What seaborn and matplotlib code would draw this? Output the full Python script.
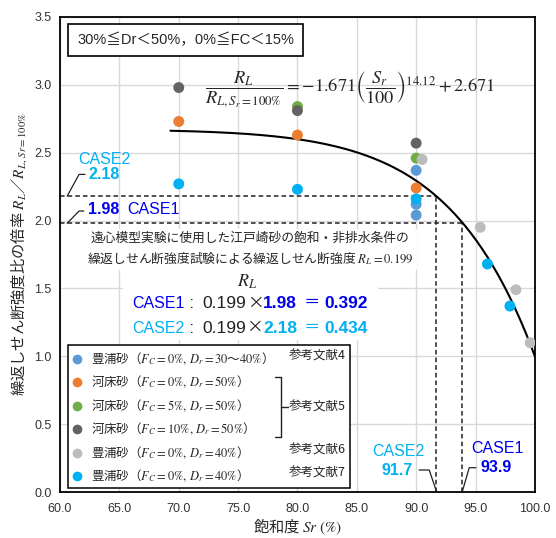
import numpy as np
import pandas as pd
import matplotlib
matplotlib.use("Agg")
import matplotlib.pyplot as plt
import seaborn as sns
from matplotlib.lines import Line2D
from matplotlib.patches import Rectangle

# ---------------- data ----------------
series_names = ["ref4", "ref5_fc0", "ref5_fc5", "ref5_fc10", "ref6", "ref7"]
series_colors = ["#5B9BD5", "#ED7D31", "#70AD47", "#636363", "#BCBCBC", "#00B0F0"]
series_labels = [
    "豊浦砂（$F_C=0\\%,\\,D_r=30$〜$40\\%$）",
    "河床砂（$F_C=0\\%,\\,D_r=50\\%$）",
    "河床砂（$F_C=5\\%,\\,D_r=50\\%$）",
    "河床砂（$F_C=10\\%,\\,D_r=50\\%$）",
    "豊浦砂（$F_C=0\\%,\\,D_r=40\\%$）",
    "豊浦砂（$F_C=0\\%,\\,D_r=40\\%$）",
]
ref4_sr = [90, 90, 90]
ref4_ratio = [2.37, 2.12, 2.04]
fc0_sr = [70, 80, 90]
fc0_ratio = [2.73, 2.63, 2.24]
fc5_sr = [80, 90]
fc5_ratio = [2.84, 2.46]
fc10_sr = [70, 80, 90]
fc10_ratio = [2.98, 2.81, 2.57]
ref6_sr = [90.5, 95.4, 98.4, 99.6]
ref6_ratio = [2.45, 1.95, 1.49, 1.10]
ref7_sr = [70, 80, 90, 96.0, 97.9]
ref7_ratio = [2.27, 2.23, 2.16, 1.68, 1.37]

coef_a = -1.671
coef_exp = 14.12
coef_b = 2.671
curve_start = 69.3

case1_ratio, case1_sr = 1.98, 93.9
case2_ratio, case2_sr = 2.18, 91.7
rl_base = 0.199
case1_rl, case2_rl = 0.392, 0.434

x_ticks = [60.0, 65.0, 70.0, 75.0, 80.0, 85.0, 90.0, 95.0, 100.0]
y_ticks = [0.0, 0.5, 1.0, 1.5, 2.0, 2.5, 3.0, 3.5]

# ---------------- style ----------------
sns.set_style("whitegrid")
plt.rcParams["font.family"] = ["Liberation Sans", "Noto Sans CJK JP"]
plt.rcParams["mathtext.fontset"] = "stix"
JP = "Noto Sans CJK JP"

blue = "#0000F0"
cyan = "#00B0F0"

df = pd.concat([
    pd.DataFrame({"sr": s, "ratio": r, "series": n})
    for s, r, n in [
        (ref4_sr, ref4_ratio, "ref4"), (fc0_sr, fc0_ratio, "ref5_fc0"),
        (fc5_sr, fc5_ratio, "ref5_fc5"), (fc10_sr, fc10_ratio, "ref5_fc10"),
        (ref6_sr, ref6_ratio, "ref6"), (ref7_sr, ref7_ratio, "ref7")]
], ignore_index=True)

fig = plt.figure(figsize=(5.56, 5.38), dpi=100)
ax = fig.add_axes([0.108, 0.0855, 0.854, 0.883])

# curve
sr_curve = np.linspace(curve_start, 100, 200)
ratio_curve = coef_a * (sr_curve / 100) ** coef_exp + coef_b
sns.lineplot(x=sr_curve, y=ratio_curve, color="black", linewidth=1.5,
             estimator=None, sort=False, ax=ax, zorder=3)

# dashed guide lines
for sr, rt in [(case2_sr, case2_ratio), (case1_sr, case1_ratio)]:
    ax.plot([60, sr], [rt, rt], color="#222222", lw=1.1, ls=(0, (3, 2)), zorder=2)
    ax.plot([sr, sr], [0, rt], color="#222222", lw=1.1, ls=(0, (3, 2)), zorder=2)

# points
sns.scatterplot(data=df, x="sr", y="ratio", hue="series", hue_order=series_names,
                palette=dict(zip(series_names, series_colors)), s=62, linewidth=0,
                legend=False, ax=ax, zorder=4)

ax.set_xlim(60, 100)
ax.set_ylim(0, 3.5)
ax.set_xticks(x_ticks)
ax.set_yticks(y_ticks)
ax.set_xticklabels([f"{v:.1f}" for v in x_ticks])
ax.set_yticklabels([f"{v:.1f}" for v in y_ticks])
ax.tick_params(axis="both", length=0, labelsize=9, labelcolor="#333333")
ax.tick_params(axis="x", pad=8)
ax.tick_params(axis="y", pad=6)
ax.grid(True, color="#D9D9D9", linewidth=1.0)
for sp in ax.spines.values():
    sp.set_color("black")
    sp.set_linewidth(1.3)

ax.set_xlabel("飽和度 $Sr\\ \\mathrm{(\\%)}$", fontsize=11, labelpad=1, family=JP)
ax.set_ylabel("繰返しせん断強度比の倍率 $R_L$／$R_{L,\\,Sr=100\\%}$", fontsize=11,
              labelpad=4, family=JP)

# condition box
ax.text(70.6, 3.33, "30%≦Dr＜50%，0%≦FC＜15%", ha="center", va="center", fontsize=10.5,
        bbox=dict(boxstyle="square,pad=0.62", facecolor="white", edgecolor="black", linewidth=1.2),
        zorder=6)

# formula
ax.text(84.4, 2.96,
        r"$\dfrac{R_L}{R_{L,S_r=100\%}}=-1.671\left(\dfrac{S_r}{100}\right)^{14.12}+2.671$",
        ha="center", va="center", fontsize=13.2, zorder=6)

# explanation paragraph
ax.text(76.0, 1.79,
        "遠心模型実験に使用した江戸崎砂の飽和・非排水条件の\n繰返しせん断強度試験による繰返しせん断強度 $R_L=0.199$",
        ha="center", va="center", fontsize=9.2, linespacing=1.45, family=JP,
        bbox=dict(boxstyle="square,pad=0.25", facecolor="white", edgecolor="none"), zorder=6)

ax.add_patch(Rectangle((65.3, 1.12), 21.48, 0.53, facecolor="white", edgecolor="none", zorder=1))
ax.text(75.8, 1.547, "$R_L$", ha="center", va="center", fontsize=13, zorder=6)


def chain(x, y, pieces):
    t = None
    for s, c, w, fam, fs in pieces:
        kw = dict(color=c, fontweight=w, fontsize=fs, ha="left", va="bottom", zorder=6)
        if fam is not None:
            kw["family"] = fam
        if t is None:
            t = ax.text(x, y, s, **kw)
        else:
            t = ax.annotate(s, xy=(1, 0), xycoords=t, xytext=(0, 0), textcoords="offset points", **kw)


for yy, label, col, ratio, rl in [(1.33, "CASE1", blue, case1_ratio, case1_rl),
                                  (1.15, "CASE2", cyan, case2_ratio, case2_rl)]:
    chain(66.1, yy, [(label, col, "normal", None, 11.5),
                     (" :  ", "#222222", "normal", None, 11.5),
                     (f"{rl_base}", "#222222", "normal", None, 12.5),
                     ("×", "#222222", "normal", JP, 12),
                     (f"{ratio:.2f}", col, "bold", None, 12.5),
                     ("  ＝ ", col, "normal", JP, 11.5),
                     (f"{rl:.3f}", col, "bold", None, 12.5)])

# case labels left
ax.plot([60.6, 61.6, 62.1], [case2_ratio, 2.34, 2.34], color="#222222", lw=0.9, zorder=5)
ax.plot([60.6, 61.6, 62.0], [case1_ratio, 2.07, 2.07], color="#222222", lw=0.9, zorder=5)
ax.text(61.5, 2.447, "CASE2", color=cyan, fontsize=11.5, ha="left", va="center", zorder=6)
ax.text(62.4, 2.34, f"{case2_ratio:.2f}", color=cyan, fontsize=11.5, fontweight="bold",
        ha="left", va="center", zorder=6)
ax.text(62.35, 2.085, f"{case1_ratio:.2f}", color=blue, fontsize=11.5, fontweight="bold",
        ha="left", va="center", zorder=6)
ax.text(65.7, 2.085, "CASE1", color=blue, fontsize=11.5, ha="left", va="center", zorder=6)

# case labels bottom
ax.plot([case2_sr, 91.1, 90.25], [0.007, 0.162, 0.162], color="#222222", lw=0.9, zorder=5)
ax.plot([case1_sr, 94.47, 95.03], [0.007, 0.179, 0.179], color="#222222", lw=0.9, zorder=5)
ax.text(88.46, 0.297, "CASE2", color=cyan, fontsize=11.5, ha="center", va="center", zorder=6)
ax.text(88.4, 0.162, f"{case2_sr:.1f}", color=cyan, fontsize=11.5, fontweight="bold",
        ha="center", va="center", zorder=6)
ax.text(96.84, 0.322, "CASE1", color=blue, fontsize=11.5, ha="center", va="center", zorder=6)
ax.text(96.77, 0.179, f"{case1_sr:.1f}", color=blue, fontsize=11.5, fontweight="bold",
        ha="center", va="center", zorder=6)

# legend frame + legend
ax.add_patch(Rectangle((60.67, 0.029), 23.75, 1.054, facecolor="white", edgecolor="black",
                       linewidth=1.1, zorder=7))
handles = [Line2D([], [], marker="o", ls="", color=c, markersize=7, markeredgewidth=0)
           for c in series_colors]
leg = ax.legend(handles, series_labels, loc="upper left", bbox_to_anchor=(0.013, 0.309),
                frameon=False, prop=dict(family=JP, size=9), handletextpad=0.6,
                labelspacing=0.55, handlelength=1.0, borderaxespad=0)
leg.set_zorder(8)

ref_fs = 9
ax.text(84.1, 1.0, "参考文献4", ha="right", va="center", fontsize=ref_fs, zorder=8, family=JP)
ax.text(84.1, 0.31, "参考文献6", ha="right", va="center", fontsize=ref_fs, zorder=8, family=JP)
ax.text(84.1, 0.14, "参考文献7", ha="right", va="center", fontsize=ref_fs, zorder=8, family=JP)
ax.text(79.3, 0.626, "参考文献5", ha="left", va="center", fontsize=ref_fs, zorder=8, family=JP)
bx = 78.6
ax.plot([bx - 0.45, bx, bx, bx - 0.45], [0.847, 0.847, 0.405, 0.405], color="#222222", lw=1.0, zorder=8)
ax.plot([bx, bx + 0.6], [0.626, 0.626], color="#222222", lw=1.0, zorder=8)

fig.savefig("out.png", dpi=100)
